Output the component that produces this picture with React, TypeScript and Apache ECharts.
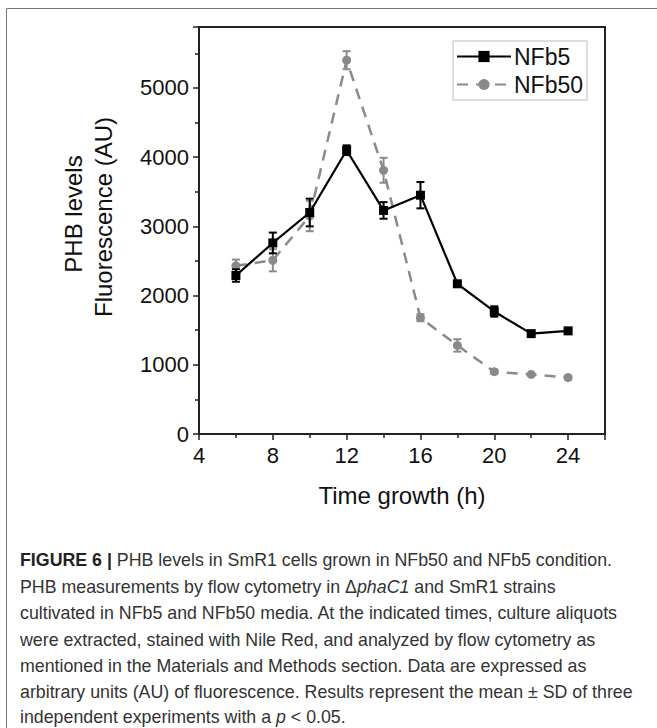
import React, { useEffect, useRef } from "react";
import * as echarts from "echarts";

const hours = [6, 8, 10, 12, 14, 16, 18, 20, 22, 24];
const nfb5 = [2290, 2760, 3200, 4100, 3230, 3450, 2170, 1770, 1450, 1490];
const nfb5Sd = [90, 150, 200, 70, 120, 190, 40, 75, 30, 40];
const nfb50 = [2430, 2510, 3150, 5400, 3810, 1680, 1280, 900, 860, 815];
const nfb50Sd = [90, 160, 220, 130, 180, 50, 90, 30, 20, 30];

const xTitle = "Time growth (h)";
const yTitle1 = "PHB levels";
const yTitle2 = "Fluorescence (AU)";

const captionLines = [
  "{b|FIGURE 6 |} PHB levels in SmR1 cells grown in NFb50 and NFb5 condition.",
  "PHB measurements by flow cytometry in Δ{i|phaC1} and SmR1 strains",
  "cultivated in NFb5 and NFb50 media. At the indicated times, culture aliquots",
  "were extracted, stained with Nile Red, and analyzed by flow cytometry as",
  "mentioned in the Materials and Methods section. Data are expressed as",
  "arbitrary units (AU) of fluorescence. Results represent the mean ± SD of three",
  "independent experiments with a {i|p} < 0.05.",
];

const FONT = "'Liberation Sans', Arial, sans-serif";

function errData(xs: number[], ys: number[], sd: number[]) {
  return xs.map((x, i) => [x, ys[i] - sd[i], ys[i] + sd[i]]);
}

function errSeries(name: string, data: number[][], color: string, z: number) {
  return {
    type: "custom",
    name: name + "-err",
    z,
    data,
    renderItem: (params: any, api: any) => {
      const x = api.value(0);
      const top = api.coord([x, api.value(2)]);
      const bot = api.coord([x, api.value(1)]);
      const hw = 4;
      const style = { stroke: color, lineWidth: 2 };
      return {
        type: "group",
        children: [
          { type: "line", shape: { x1: top[0], y1: top[1], x2: bot[0], y2: bot[1] }, style },
          { type: "line", shape: { x1: top[0] - hw, y1: top[1], x2: top[0] + hw, y2: top[1] }, style },
          { type: "line", shape: { x1: bot[0] - hw, y1: bot[1], x2: bot[0] + hw, y2: bot[1] }, style },
        ],
      };
    },
  };
}

export default function App() {
  const ref = useRef<HTMLDivElement>(null);
  useEffect(() => {
    if (!ref.current) return;
    const chart = echarts.init(ref.current, null, { renderer: "svg" });
    const gray = "#8a8a8a";
    const axisCommon = {
      axisLine: { show: true, lineStyle: { color: "#222", width: 2 } },
      axisTick: { show: true, inside: false, length: 6, lineStyle: { color: "#222", width: 1.5 } },
      minorTick: { show: true, splitNumber: 2, length: 4, lineStyle: { color: "#222", width: 1.5 } },
      splitLine: { show: false },
      minorSplitLine: { show: false },
    };
    const labelCommon = {
      fontSize: 22,
      fontFamily: FONT,
      color: "#111",
      margin: 10,
      showMaxLabel: false,
      formatter: (v: number) => String(v),
    };
    const option: any = {
      animation: false,
      backgroundColor: "#fff",
      grid: {
        left: 199,
        top: 27,
        right: 52,
        bottom: 294,
        show: true,
        borderColor: "#222",
        borderWidth: 2,
        backgroundColor: "transparent",
      },
      legend: {
        left: 453,
        top: 41,
        orient: "vertical",
        data: ["NFb5", "NFb50"],
        itemWidth: 54,
        itemHeight: 14,
        itemGap: 5,
        padding: [4, 4, 4, 3],
        borderColor: "#bbb",
        borderWidth: 1,
        textStyle: { fontSize: 23, fontFamily: FONT, color: "#111", padding: [0, 0, 0, -2] },
      },
      xAxis: {
        type: "value",
        min: 4,
        max: 26,
        interval: 4,
        ...axisCommon,
        axisLabel: labelCommon,
      },
      yAxis: {
        type: "value",
        min: 0,
        max: 5880,
        interval: 1000,
        ...axisCommon,
        axisLabel: labelCommon,
      },
      series: [
        errSeries("NFb50", errData(hours, nfb50, nfb50Sd), gray, 2),
        {
          type: "line",
          name: "NFb50",
          data: hours.map((h, i) => [h, nfb50[i]]),
          symbol: "circle",
          symbolSize: 9,
          z: 3,
          itemStyle: { color: gray },
          lineStyle: { color: gray, width: 2.5, type: [11, 8] },
        },
        errSeries("NFb5", errData(hours, nfb5, nfb5Sd), "#000", 4),
        {
          type: "line",
          name: "NFb5",
          data: hours.map((h, i) => [h, nfb5[i]]),
          symbol: "rect",
          symbolSize: 9,
          z: 5,
          itemStyle: { color: "#000" },
          lineStyle: { color: "#000", width: 2.2 },
        },
      ],
      graphic: [
        {
          type: "rect",
          silent: true,
          shape: { x: 6.5, y: 8.5, width: 800, height: 900 },
          style: { fill: "none", stroke: "#777", lineWidth: 1 },
          z: -10,
        },
        {
          type: "text",
          x: 73,
          y: 214,
          rotation: Math.PI / 2,
          style: { text: yTitle1, font: `24px ${FONT}`, fill: "#111", textAlign: "center", textVerticalAlign: "middle" },
        },
        {
          type: "text",
          x: 103,
          y: 217,
          rotation: Math.PI / 2,
          style: { text: yTitle2, font: `24px ${FONT}`, fill: "#111", textAlign: "center", textVerticalAlign: "middle" },
        },
        {
          type: "text",
          x: 402,
          y: 495,
          style: { text: xTitle, font: `24px ${FONT}`, fill: "#111", textAlign: "center", textVerticalAlign: "middle" },
        },
        ...captionLines.map((t, i) => ({
          type: "text",
          x: 20,
          y: [560, 587, 613, 640, 666, 692, 717][i],
          style: {
            text: t,
            font: `17.8px ${FONT}`,
            fill: "#333",
            textAlign: "left",
            textVerticalAlign: "middle",
            rich: {
              b: { fontWeight: "bold", fontSize: 17.8, fontFamily: FONT, fill: "#222" },
              i: { fontStyle: "italic", fontSize: 17.8, fontFamily: FONT, fill: "#333" },
            },
          },
        })),
      ],
    };
    chart.setOption(option);
    return () => chart.dispose();
  }, []);
  return (
    <div
      ref={ref}
      style={{ position: "fixed", left: 0, top: 0, width: 657, height: 728, background: "#fff" }}
    />
  );
}
